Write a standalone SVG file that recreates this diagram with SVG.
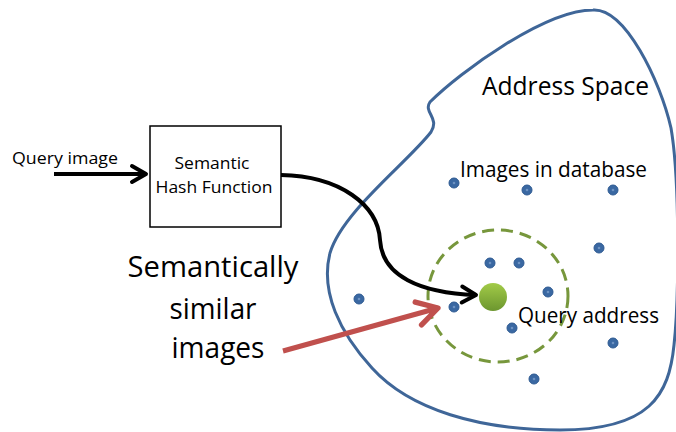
<svg xmlns="http://www.w3.org/2000/svg" width="676" height="432" viewBox="0 0 676 432">
<style>
text{font-family:"Open Sans","Liberation Sans",sans-serif;fill:#000}
.dot{fill:#3a68a2;stroke:#2e5a92;stroke-width:1}
.dc{fill:#6d92c2}
</style>
<defs>
<linearGradient id="gq" x1="0" y1="0" x2="0" y2="1">
<stop offset="0" stop-color="#a2cb48"/>
<stop offset="1" stop-color="#6c962f"/>
</linearGradient>
<marker id="ab" markerUnits="userSpaceOnUse" markerWidth="24" markerHeight="24" refX="0" refY="0" viewBox="-16 -12 20 24" orient="auto" overflow="visible">
<path d="M-14,-8 L0,0 L-14,8" fill="none" stroke="#000" stroke-width="4" stroke-linecap="round" stroke-linejoin="round"/>
</marker>
<marker id="ar" markerUnits="userSpaceOnUse" markerWidth="30" markerHeight="30" refX="0" refY="0" viewBox="-22 -14 26 28" orient="auto" overflow="visible">
<path d="M-19,-11 L0,0 L-19,11" fill="none" stroke="#c0504d" stroke-width="5" stroke-linecap="round" stroke-linejoin="round"/>
</marker>
<g id="d"><circle class="dot" r="5"/><circle class="dc" r="1.3"/></g>
</defs>
<rect width="676" height="432" fill="#fff"/>

<g id="address-space">
<path d="M593,10 C625,8 660,80 671,128 C680,180 679,300 674,345 C669,395 650,430 560,430 C480,430 410,410 372,368 C340,333 320,292 330,253 C342,212 408,162 431,132 C440,118 423,112 430,102 C460,72 545,10 593,10 Z" fill="none" stroke="#3f6698" stroke-width="3"/>
<text x="482" y="95" font-size="26" textLength="167" lengthAdjust="spacingAndGlyphs">Address Space</text>
</g>

<g id="images-db">
<text x="460" y="177" font-size="21" textLength="187" lengthAdjust="spacingAndGlyphs">Images in database</text>
<use href="#d" x="454" y="183"/>
<use href="#d" x="527" y="190"/>
<use href="#d" x="613" y="190"/>
<use href="#d" x="599" y="248"/>
<use href="#d" x="490" y="263"/>
<use href="#d" x="519" y="263"/>
<use href="#d" x="548" y="292"/>
<use href="#d" x="359" y="299"/>
<use href="#d" x="454" y="307"/>
<use href="#d" x="512" y="328"/>
<use href="#d" x="613" y="343"/>
<use href="#d" x="534" y="379"/>
</g>

<g id="neighborhood">
<ellipse cx="498" cy="296" rx="70" ry="66" fill="none" stroke="#77973c" stroke-width="3" stroke-dasharray="12 7"/>
</g>

<g id="query-address">
<circle cx="493" cy="297" r="14" fill="url(#gq)"/>
<text x="518" y="323" font-size="21" textLength="141" lengthAdjust="spacingAndGlyphs">Query address</text>
</g>

<g id="hash-function">
<rect x="150" y="126" width="131" height="101" fill="#fff" stroke="#000" stroke-width="1.5"/>
<text x="212" y="169" font-size="16" text-anchor="middle" textLength="75" lengthAdjust="spacingAndGlyphs">Semantic</text>
<text x="214" y="193" font-size="16" text-anchor="middle" textLength="117" lengthAdjust="spacingAndGlyphs">Hash Function</text>
</g>

<g id="query-image">
<text x="12" y="164" font-size="17" textLength="106" lengthAdjust="spacingAndGlyphs">Query image</text>
</g>

<g id="similar-label">
<text x="213" y="277" font-size="29" text-anchor="middle" textLength="171" lengthAdjust="spacingAndGlyphs">Semantically</text>
<text x="213" y="319" font-size="29" text-anchor="middle" textLength="87" lengthAdjust="spacingAndGlyphs">similar</text>
<text x="218" y="358" font-size="29" text-anchor="middle" textLength="93" lengthAdjust="spacingAndGlyphs">images</text>
</g>

<g id="connectors">
<line x1="54" y1="174" x2="146" y2="174" stroke="#000" stroke-width="4" marker-end="url(#ab)"/>
<path d="M281,175 C340,176 378,205 380,240 C382,276 420,293 476,295" fill="none" stroke="#000" stroke-width="4" marker-end="url(#ab)"/>
<line x1="283" y1="351" x2="438" y2="308" stroke="#c0504d" stroke-width="5" marker-end="url(#ar)"/>
</g>
</svg>
